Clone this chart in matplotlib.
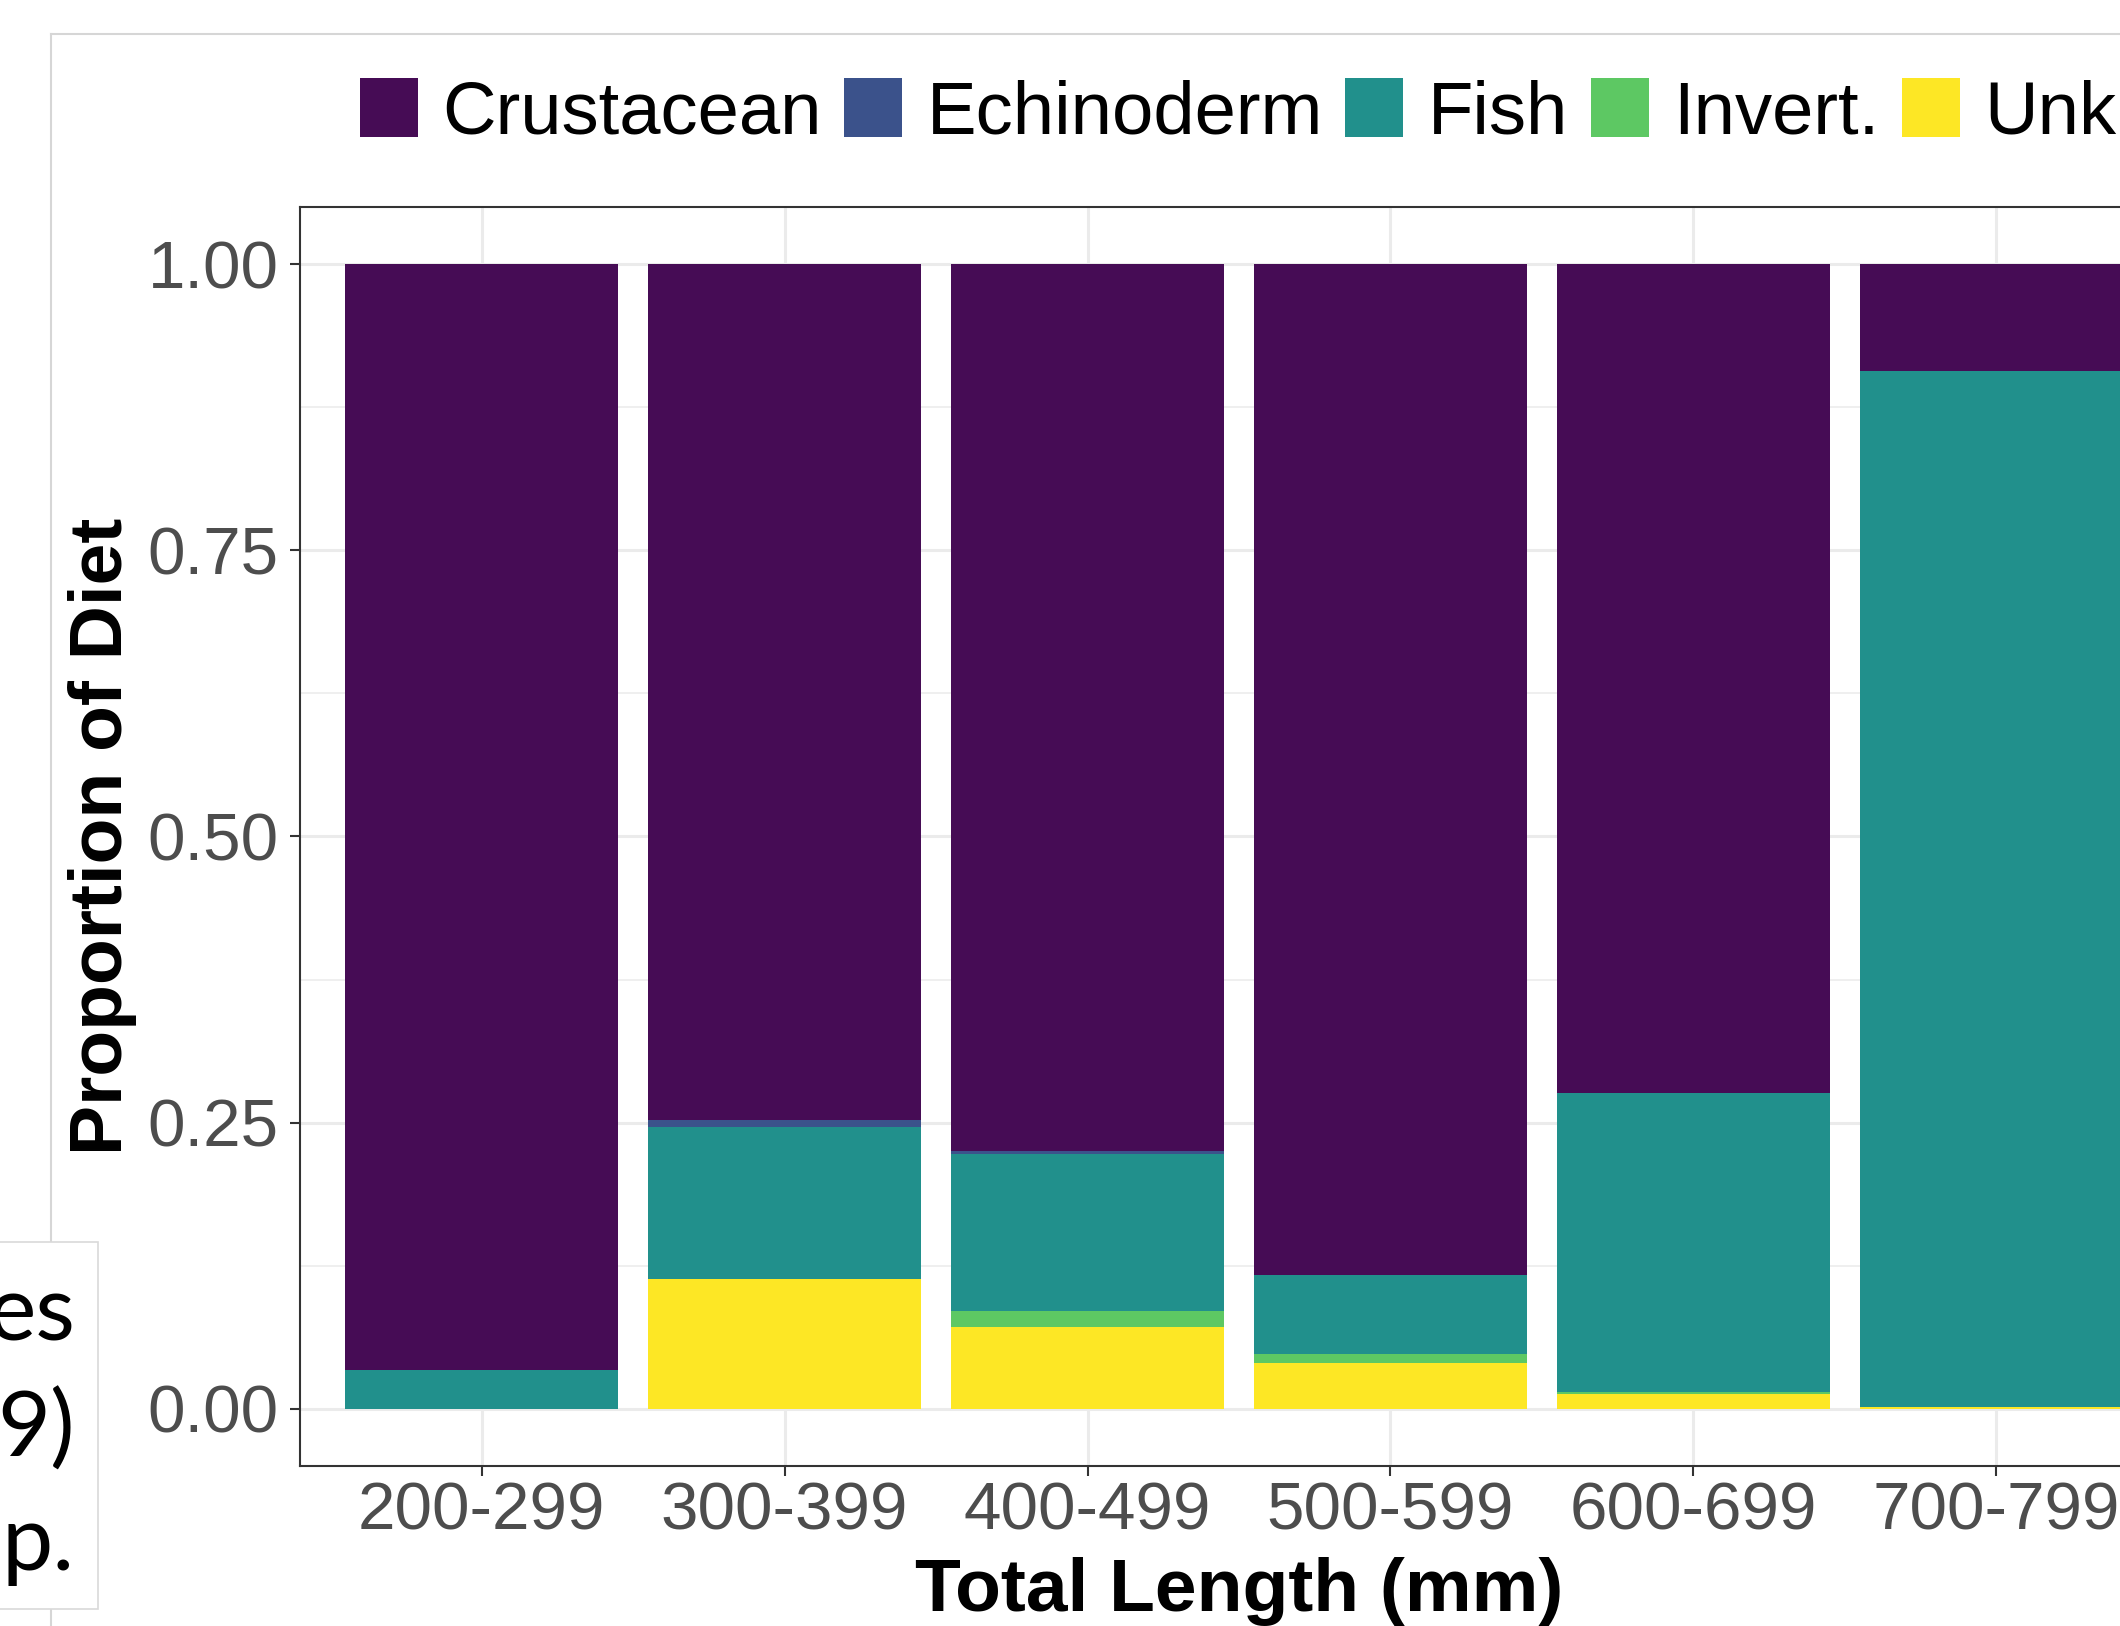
import matplotlib
matplotlib.use('Agg')
import matplotlib.pyplot as plt
from matplotlib.patches import Rectangle, Patch
from matplotlib.lines import Line2D
import numpy as np

# ---------------- data ----------------
categories = ['200-299', '300-399', '400-499', '500-599', '600-699', '700-799']
crustacean = [0.966, 0.748, 0.7746, 0.883, 0.7243, 0.0932]
echinoderm = [0.0, 0.0055, 0.003, 0.0, 0.0, 0.0]
fish = [0.034, 0.1327, 0.1368, 0.069, 0.2611, 0.9053]
invert = [0.0, 0.0, 0.014, 0.0078, 0.0015, 0.0]
unknown = [0.0, 0.1138, 0.0716, 0.0402, 0.0131, 0.0015]

prey_names = ['Crustacean', 'Echinoderm', 'Fish', 'Invert.', 'Unknown']
prey_colors = ['#460C55', '#3B528B', '#21908C', '#5DC863', '#FDE725']
yticks = [0.0, 0.25, 0.5, 0.75, 1.0]
ytick_labels = ['0.00', '0.25', '0.50', '0.75', '1.00']
box_lines = ['es', '9)', 'p.']

# ---------------- figure ----------------
W, H = 2120, 1626
plt.rcParams['font.family'] = ['Liberation Sans', 'DejaVu Sans']
fig = plt.figure(figsize=(W / 100, H / 100), dpi=100)


def fx(px):
    return px / W


def fy(py):
    return 1 - py / H


# outer frame lines (slide image border)
fig.add_artist(Line2D([fx(51), fx(51)], [fy(34), fy(1630)], color='#D6D6D6',
                      lw=1.5, transform=fig.transFigure, zorder=0))
fig.add_artist(Line2D([fx(51), 1.01], [fy(34), fy(34)], color='#D6D6D6',
                      lw=1.5, transform=fig.transFigure, zorder=0))

ax = fig.add_axes([fx(300), fy(1466), (2178 - 300) / W, (1466 - 207) / H])

x = np.arange(1, len(categories) + 1)
series = dict(zip(prey_names, [crustacean, echinoderm, fish, invert, unknown]))
colors = dict(zip(prey_names, prey_colors))
bottom = np.zeros(len(categories))
for name in prey_names[::-1]:
    vals = np.array(series[name])
    ax.bar(x, vals, width=0.9, bottom=bottom, color=colors[name], linewidth=0,
           zorder=3)
    bottom += vals

ax.set_xlim(0.4, len(categories) + 0.6)
ax.set_ylim(-0.05, 1.05)
ax.set_xticks(x)
ax.set_xticklabels(categories)
ax.set_yticks(yticks)
ax.set_yticklabels(ytick_labels)
ax.set_yticks([0.125, 0.375, 0.625, 0.875], minor=True)
ax.grid(which='major', color='#EBEBEB', lw=2.2, zorder=0)
ax.grid(which='minor', axis='y', color='#EBEBEB', lw=1.1, zorder=0)
ax.set_axisbelow(True)
ax.tick_params(which='minor', length=0)
ax.tick_params(which='major', length=7.5, width=1.5, color='#333333',
               labelsize=48.5, labelcolor='#4D4D4D')
ax.tick_params(axis='y', pad=8)
ax.tick_params(axis='x', pad=4)
for sp in ax.spines.values():
    sp.set_color('#333333')
    sp.set_linewidth(1.5)

fig.text(fx(1239), fy(1611), 'Total Length (mm)', ha='center', va='baseline',
         fontsize=54, fontweight='bold', color='black')
fig.text(fx(68), fy(836), 'Proportion of Diet', ha='left', va='center',
         rotation=90, fontsize=54, fontweight='bold', color='black')

handles = [Patch(facecolor=colors[n], edgecolor='none') for n in prey_names]
fig.legend(handles, prey_names, ncol=5, loc='center left',
           bbox_to_anchor=(fx(360), fy(113)), frameon=False, fontsize=53.5,
           handlelength=0.78, handleheight=0.84, handletextpad=0.33,
           columnspacing=0.30, borderpad=0, borderaxespad=0)

# partially visible text box at lower left
fig.add_artist(Rectangle((fx(-20), fy(1609)), fx(118), (1609 - 1242) / H,
                         transform=fig.transFigure, facecolor='white',
                         edgecolor='#D9D9D9', lw=1.2, zorder=5))
for txt, base in zip(box_lines, [1340, 1457, 1570]):
    fig.text(fx(75), fy(base), txt, ha='right', va='baseline', fontsize=66,
             family=['Lato', 'DejaVu Sans'], color='black', zorder=6)

fig.savefig('out.png', dpi=100, facecolor='white')
